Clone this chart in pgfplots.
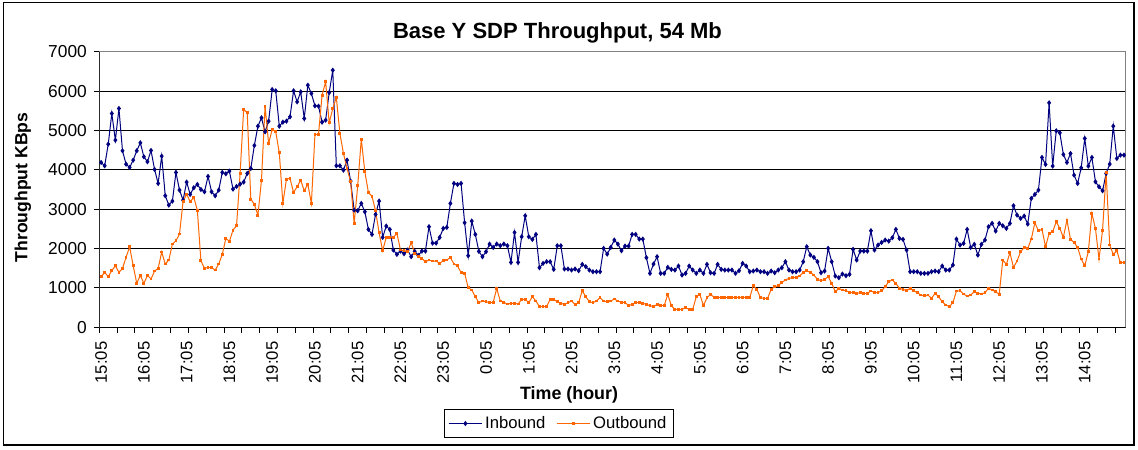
\documentclass[border=0pt]{standalone}
\usepackage{fontspec}
\setmainfont{Liberation Sans}
\usepackage{pgfplots}
\usepackage{pgfplotstable}
\pgfplotsset{compat=1.18}
\definecolor{InNavy}{HTML}{000080}
\definecolor{OutOrange}{HTML}{FF6600}
\definecolor{BoxGray}{HTML}{808080}

% 5-minute samples from 15:05, one value per row
\pgfplotstableread[row sep=\\]{v\\
4188\\4103\\4653\\5431\\4755\\5558\\4484\\4145\\4061\\4247\\4484\\4687\\4332\\4205\\4492\\4010\\
3655\\4348\\3342\\3105\\3206\\3934\\3486\\3232\\3689\\3376\\3545\\3629\\3502\\3443\\3832\\3443\\
3342\\3486\\3934\\3900\\3968\\3511\\3579\\3638\\3689\\3909\\4035\\4619\\5110\\5321\\4966\\5237\\
6040\\6007\\5110\\5211\\5237\\5347\\6007\\5727\\5981\\5304\\6150\\5939\\5626\\5617\\5211\\5262\\
5964\\6531\\4103\\4103\\3993\\4247\\3714\\2978\\2961\\3147\\2936\\2487\\2360\\2868\\3206\\2284\\
2572\\2487\\1963\\1853\\1937\\1870\\1963\\1794\\1929\\1827\\1937\\1937\\2555\\2140\\2140\\2284\\
2513\\2538\\3147\\3655\\3629\\3655\\2656\\1819\\2699\\2360\\1929\\1794\\1920\\2115\\2030\\2115\\
2073\\2115\\2073\\1650\\2411\\1650\\2301\\2834\\2301\\2233\\2360\\1514\\1624\\1667\\1667\\1472\\
2073\\2073\\1481\\1481\\1455\\1481\\1438\\1599\\1540\\1455\\1413\\1413\\1413\\2005\\1861\\
2030\\2217\\2115\\1946\\2064\\2064\\2360\\2360\\2242\\2242\\1768\\1371\\1607\\1794\\1371\\1371\\
1523\\1472\\1455\\1557\\1328\\1371\\1557\\1455\\1371\\1455\\1371\\1599\\1387\\1371\\1599\\1472\\
1455\\1455\\1455\\1371\\1438\\1624\\1557\\1413\\1430\\1455\\1413\\1413\\1371\\1430\\1387\\1455\\
1514\\1667\\1455\\1413\\1413\\1455\\1667\\2047\\1836\\1777\\1667\\1387\\1430\\2005\\1667\\1303\\
1261\\1354\\1311\\1345\\1980\\1709\\1937\\1937\\1937\\2453\\1963\\2090\\2157\\2217\\2191\\2276\\
2487\\2259\\2233\\1963\\1413\\1413\\1413\\1371\\1371\\1371\\1413\\1430\\1413\\1557\\1455\\1455\\
1582\\2242\\2090\\2132\\2487\\2030\\2107\\1836\\2107\\2217\\2555\\2640\\2445\\2640\\2580\\2513\\
2640\\3088\\2851\\2766\\2826\\2623\\3274\\3376\\3486\\4315\\4137\\5702\\4095\\4991\\4941\\4391\\
4188\\4416\\3866\\3655\\4052\\4797\\4095\\4315\\3697\\3570\\3469\\3909\\4145\\5110\\4289\\4374\\4374\\
}\inbound

\pgfplotstableread[row sep=\\]{v\\
1286\\1396\\1286\\1438\\1565\\1396\\1497\\1777\\2047\\1565\\1117\\1320\\1117\\1320\\1227\\1430\\
1497\\1912\\1607\\1709\\2115\\2200\\2369\\3198\\3384\\3189\\3299\\2978\\1692\\1497\\1523\\1514\\
1455\\1607\\1853\\2259\\2183\\2470\\2580\\3909\\5541\\5448\\3257\\3122\\2851\\3739\\5617\\4670\\
5025\\4966\\4433\\3147\\3765\\3782\\3426\\3570\\3739\\3469\\3638\\3147\\4898\\4907\\5897\\6235\\
5194\\5558\\5837\\4924\\4416\\4035\\3697\\2640\\3596\\4780\\3951\\3426\\3333\\2961\\2403\\1946\\
2284\\2276\\2284\\2386\\1963\\1946\\1920\\2157\\1878\\1810\\1751\\1667\\1709\\1684\\1684\\1624\\
1692\\1709\\1777\\1607\\1565\\1387\\1371\\1007\\948\\778\\626\\668\\651\\626\\626\\990\\
668\\635\\592\\609\\609\\592\\711\\711\\626\\778\\668\\525\\525\\525\\711\\711\\
651\\609\\584\\626\\668\\584\\626\\931\\778\\651\\626\\668\\753\\668\\651\\
668\\719\\668\\635\\635\\550\\584\\626\\635\\609\\584\\550\\525\\584\\550\\550\\
838\\550\\457\\457\\457\\499\\457\\457\\778\\838\\550\\753\\838\\761\\761\\761\\
761\\761\\761\\761\\761\\761\\761\\761\\1058\\964\\753\\736\\736\\964\\1032\\1058\\
1142\\1201\\1244\\1261\\1261\\1303\\1396\\1438\\1396\\1328\\1218\\1184\\1218\\1286\\1117\\905\\
990\\948\\931\\888\\880\\863\\880\\863\\863\\922\\888\\880\\931\\1032\\1159\\1201\\
1117\\990\\964\\931\\990\\931\\880\\821\\804\\821\\736\\863\\778\\651\\567\\525\\
626\\922\\931\\846\\795\\821\\905\\863\\846\\880\\990\\948\\905\\838\\1709\\1599\\
1895\\1523\\1684\\1920\\2030\\2005\\2242\\2656\\2453\\2487\\2047\\2386\\2428\\2682\\2513\\2284\\
2724\\2233\\2157\\2030\\1734\\1565\\1920\\2893\\2513\\1734\\2470\\3925\\2090\\1853\\1946\\1641\\1641\\
}\outbound

\begin{document}
\begin{tikzpicture}
\begin{axis}[
  scale only axis,width=769.8pt,height=206.7pt,
  xmin=-0.5,xmax=287.5,ymin=0,ymax=7000,
  axis line style={BoxGray,line width=0.75pt},
  tick align=outside,tick pos=left,tick style={black,line width=0.75pt},
  major tick length=4.2pt,
  xtick={-0.5,4.5,...,284.5},xticklabels={},
  extra x ticks={0,12,...,276},
  extra x tick labels={15:05,16:05,17:05,18:05,19:05,20:05,21:05,22:05,23:05,0:05,1:05,2:05,
    3:05,4:05,5:05,6:05,7:05,8:05,9:05,10:05,11:05,12:05,13:05,14:05},
  extra x tick style={major tick length=0pt,xticklabel shift=10.5pt,
    xticklabel style={rotate=90,anchor=east,inner sep=0pt,font=\fontsize{12.5}{14}\selectfont}},
  ytick={0,1000,...,7000},
  yticklabel style={font=\fontsize{13}{15}\selectfont,inner sep=0pt,xshift=-5pt},
  /pgf/number format/1000 sep={},/pgf/number format/assume math mode=true,
  scaled y ticks=false,
  ymajorgrids=true,grid style={black,line width=0.75pt},
  legend columns=2,
  legend style={at={(axis description cs:0.3355,-0.2975)},anchor=north west,
    draw=black,line width=0.75pt,font=\fontsize{12.5}{14}\selectfont,
    inner xsep=3pt,inner ysep=3pt,
    /tikz/every even column/.append style={column sep=6pt}},
  legend image code/.code={\draw[mark repeat=2,mark phase=2]
    plot coordinates {(0cm,0cm) (0.44cm,0cm) (0.88cm,0cm)};},
]
\addplot[InNavy,line width=0.75pt,mark=diamond*,mark size=1.4pt]
  table[x expr=\coordindex,y index=0] {\inbound};
\addlegendentry{Inbound}
\addplot[OutOrange,line width=0.75pt,mark=square*,mark size=0.7pt]
  table[x expr=\coordindex,y index=0] {\outbound};
\addlegendentry{Outbound}
\draw[black,line width=0.75pt] (rel axis cs:0,1) -- (rel axis cs:0,0) -- (rel axis cs:1,0);
\coordinate (SW) at (rel axis cs:0,0);
\end{axis}
\node[anchor=base,font=\bfseries\fontsize{16.5}{18}\selectfont]
  at ([shift={(343.6pt,216.75pt)}]SW) {Base Y SDP Throughput, 54 Mb};
\node[anchor=base,rotate=90,font=\bfseries\fontsize{13.2}{15}\selectfont]
  at ([shift={(-54pt,104.9pt)}]SW) {Throughput KBps};
\node[anchor=base,font=\bfseries\fontsize{13.4}{15}\selectfont]
  at ([shift={(352.3pt,-54.5pt)}]SW) {Time (hour)};
\draw[black,line width=1.1pt] ([shift={(-72pt,-88.3pt)}]SW) rectangle ([shift={(776pt,243.5pt)}]SW);
\path ([shift={(-74.5pt,-91.3pt)}]SW) rectangle ([shift={(779pt,245.5pt)}]SW);
\end{tikzpicture}
\end{document}
